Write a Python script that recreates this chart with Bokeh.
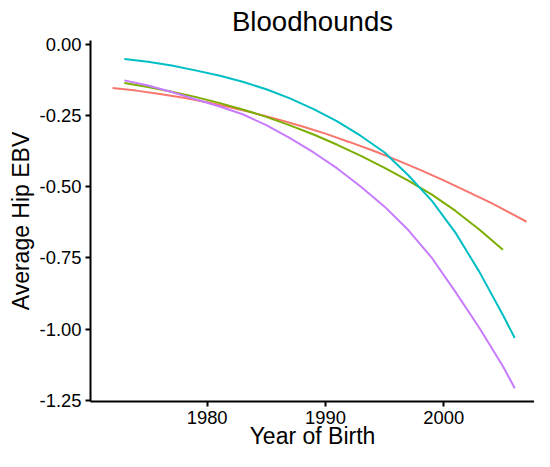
from bokeh.plotting import figure
from bokeh.models import Range1d, FixedTicker
from bokeh.embed import file_html
from bokeh.resources import INLINE

# ---- data ----
red_years = [1972, 1974, 1976, 1978, 1980, 1982, 1984, 1986, 1988, 1990, 1992,
             1994, 1996, 1998, 2000, 2002, 2004, 2006, 2007]
red_vals = [-0.154, -0.163, -0.175, -0.188, -0.204, -0.222, -0.242, -0.264, -0.288,
            -0.314, -0.343, -0.373, -0.406, -0.441, -0.478, -0.517, -0.557, -0.601, -0.623]

green_years = [1973, 1975, 1977, 1979, 1981, 1983, 1985, 1987, 1989, 1991, 1993,
               1995, 1997, 1999, 2001, 2003, 2005]
green_vals = [-0.136, -0.150, -0.167, -0.185, -0.206, -0.229, -0.255, -0.285, -0.317,
              -0.353, -0.392, -0.434, -0.479, -0.528, -0.585, -0.650, -0.721]

cyan_years = [1973, 1975, 1977, 1979, 1981, 1983, 1985, 1987, 1989, 1991, 1993,
              1995, 1997, 1999, 2001, 2003, 2005, 2006]
cyan_vals = [-0.052, -0.062, -0.075, -0.092, -0.110, -0.132, -0.158, -0.190, -0.228,
             -0.271, -0.322, -0.380, -0.460, -0.550, -0.662, -0.798, -0.950, -1.031]

purple_years = [1973, 1975, 1977, 1979, 1981, 1983, 1985, 1987, 1989, 1991, 1993,
                1995, 1997, 1999, 2001, 2003, 2005, 2006]
purple_vals = [-0.127, -0.145, -0.168, -0.193, -0.218, -0.246, -0.284, -0.330, -0.380,
               -0.436, -0.500, -0.570, -0.652, -0.750, -0.870, -0.995, -1.130, -1.207]

x_ticks = [1980, 1990, 2000]
y_ticks = [0.0, -0.25, -0.5, -0.75, -1.0, -1.25]
y_tick_labels = ["0.00", "-0.25", "-0.50", "-0.75", "-1.00", "-1.25"]

series = [
    (red_years, red_vals, "#F8766D"),
    (green_years, green_vals, "#7CAE00"),
    (cyan_years, cyan_vals, "#00BFC4"),
    (purple_years, purple_vals, "#C77CFF"),
]

FONT = "Liberation Sans"

p = figure(width=534, height=451, output_backend="svg", toolbar_location=None,
           title="Bloodhounds",
           x_range=Range1d(1970.14, 2007.67), y_range=Range1d(-1.2535, 0.0128),
           min_border_left=90, min_border_right=0, min_border_top=0, min_border_bottom=0)

for xs, ys, col in series:
    p.line(xs, ys, line_color=col, line_width=2)

p.title.text_font = FONT
p.title.text_font_size = "27.6px"
p.title.text_font_style = "normal"
p.title.align = "center"
p.title.text_color = "black"
p.title.standoff = 7

p.xgrid.visible = False
p.ygrid.visible = False
p.outline_line_color = None
p.background_fill_color = "white"
p.border_fill_color = "white"

for ax in (p.xaxis[0], p.yaxis[0]):
    ax.axis_line_color = "black"
    ax.axis_line_width = 2
    ax.major_tick_line_color = "black"
    ax.major_tick_line_width = 2
    ax.major_tick_out = 5
    ax.major_tick_in = 0
    ax.minor_tick_line_color = None
    ax.major_label_text_font = FONT
    ax.major_label_text_font_size = "18.4px"
    ax.major_label_text_color = "black"
    ax.axis_label_text_font = FONT
    ax.axis_label_text_font_size = "23px"
    ax.axis_label_text_font_style = "normal"
    ax.axis_label_text_color = "black"

p.xaxis.ticker = FixedTicker(ticks=x_ticks)
p.xaxis.axis_label = "Year of Birth"
p.xaxis.major_label_standoff = 4
p.xaxis.axis_label_standoff = -4

p.yaxis.ticker = FixedTicker(ticks=y_ticks)
p.yaxis.major_label_overrides = {t: l for t, l in zip(y_ticks, y_tick_labels)}
p.yaxis.axis_label = "Average Hip EBV"
p.yaxis.major_label_standoff = 4
p.yaxis.axis_label_standoff = 3

open("out.html", "w").write(file_html(p, INLINE))
